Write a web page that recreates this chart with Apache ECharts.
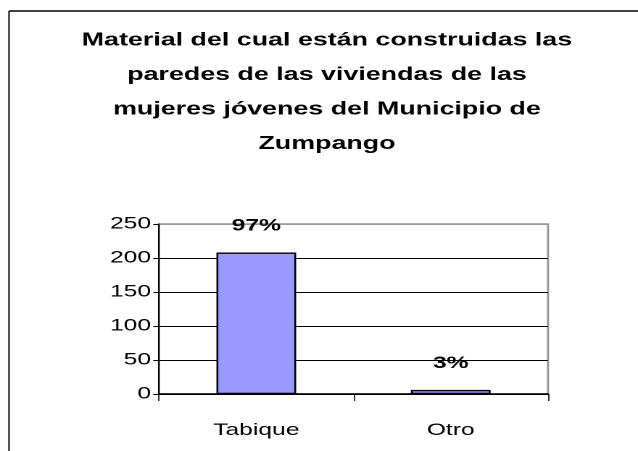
<!DOCTYPE html>
<html>
<head>
<meta charset="utf-8">
<script src="https://cdn.jsdelivr.net/npm/echarts@6/dist/echarts.min.js"></script>
<style>
  html, body { margin: 0; padding: 0; background: #fff; overflow: hidden; }
  /* 原图的文字是横向拉伸的，这里整体横向放大 */
  #chart { width: 440px; height: 451px; transform: scaleX(1.45); transform-origin: 0 0; }
</style>
</head>
<body>
<div id="chart"></div>
<script>
const categories = ['Tabique', 'Otro']
const values = [208, 6]
const yTicks = [0, 50, 100, 150, 200, 250]

const total = values.reduce((a, b) => a + b, 0)
const font = '"Liberation Sans", Arial, sans-serif'

const chart = echarts.init(document.getElementById('chart'), null, { devicePixelRatio: 2 })
chart.setOption({
    animation: false,
    title: {
        text: 'Material del cual están construidas las\nparedes de las viviendas de las\nmujeres jóvenes del Municipio de\nZumpango',
        left: 225.5,
        top: 23,
        padding: 0,
        textAlign: 'center',
        textStyle: {
            fontFamily: font,
            fontSize: 18.5,
            fontWeight: 'bold',
            color: '#000',
            lineHeight: 34.5
        }
    },
    // 外框：上边和左边
    graphic: [
        { type: 'line', shape: { x1: 6.2, y1: 11, x2: 440, y2: 11 }, style: { stroke: '#404040', lineWidth: 2 } },
        { type: 'line', shape: { x1: 6.2, y1: 11, x2: 6.2, y2: 451 }, style: { stroke: '#000', lineWidth: 1 } }
    ],
    grid: {
        left: 109.7,
        right: 62.1,
        top: 224,
        bottom: 57,
        show: true,
        borderColor: '#999',
        borderWidth: 1.5
    },
    xAxis: {
        type: 'category',
        data: categories,
        axisLine: { lineStyle: { color: '#000', width: 1.5 } },
        axisTick: { show: true, length: 7, lineStyle: { color: '#000', width: 0.8 } },
        axisLabel: { color: '#000', fontFamily: font, fontSize: 17, margin: 28 }
    },
    yAxis: {
        type: 'value',
        min: yTicks[0],
        max: yTicks[yTicks.length - 1],
        interval: 50,
        axisLine: { show: true, lineStyle: { color: '#000', width: 1 } },
        axisTick: { show: true, length: 4, lineStyle: { color: '#000' } },
        axisLabel: { color: '#000', fontFamily: font, fontSize: 17, margin: 5.5 },
        splitLine: {
            lineStyle: { color: ['#000', '#000', '#000', '#000', '#000', '#999'], width: 1 }
        }
    },
    series: [{
        type: 'bar',
        data: values,
        barWidth: 55,
        itemStyle: { color: '#9999FF', borderColor: '#000', borderWidth: 1.3 },
        label: {
            show: true,
            position: 'top',
            distance: 18,
            fontFamily: font,
            fontSize: 17,
            fontWeight: 'bold',
            color: '#000',
            formatter: p => Math.round(p.value / total * 100) + '%'
        }
    }]
})
</script>
</body>
</html>
